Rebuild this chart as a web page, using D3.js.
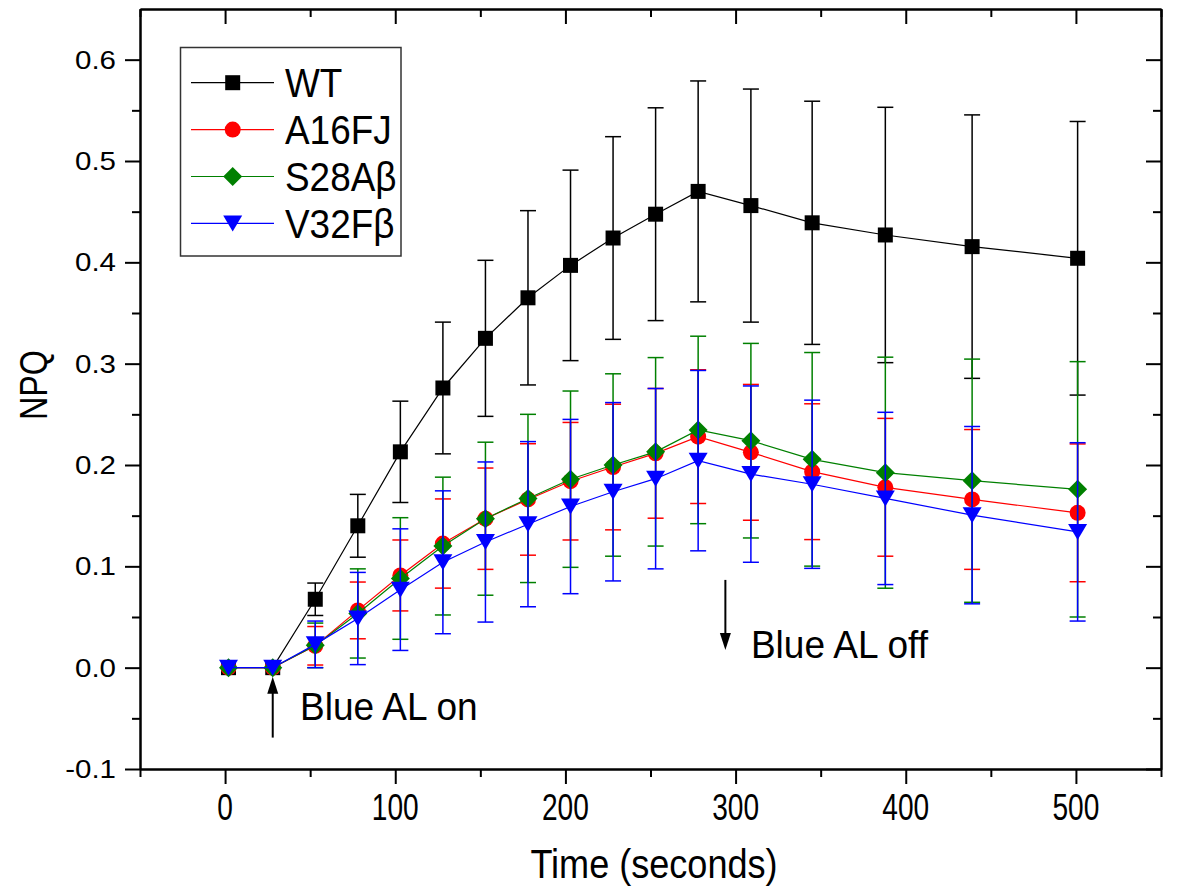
<!DOCTYPE html>
<html>
<head>
<meta charset="utf-8">
<script src="https://cdn.jsdelivr.net/npm/d3@7"></script>
<style>
  body { margin: 0; background: #fff; }
  text { font-family: "Liberation Sans", Arial, sans-serif; fill: #000; }
</style>
</head>
<body>
<svg width="1184" height="894"></svg>
<script>
// time points (seconds)
let times = [2, 28, 53, 78, 103, 128, 153, 178, 203, 228, 253, 278, 309, 345, 388, 439, 501]

let wt_mean = [0, 0, 0.0675, 0.140, 0.213, 0.276, 0.325, 0.365, 0.397, 0.424, 0.4475, 0.470, 0.456, 0.439, 0.427, 0.4155, 0.404]
let wt_err  = [0, 0, 0.016, 0.031, 0.050, 0.065, 0.077, 0.086, 0.094, 0.100, 0.105, 0.109, 0.115, 0.120, 0.126, 0.130, 0.135]

let a16_mean = [0, 0, 0.0216, 0.0565, 0.091, 0.1225, 0.147, 0.166, 0.184, 0.198, 0.2115, 0.228, 0.2125, 0.1934, 0.178, 0.166, 0.1528]
let a16_err  = [0, 0, 0.019, 0.028, 0.035, 0.044, 0.050, 0.055, 0.058, 0.062, 0.064, 0.066, 0.067, 0.067, 0.068, 0.069, 0.068]

let s28_mean = [0, 0, 0.022, 0.0535, 0.088, 0.120, 0.147, 0.167, 0.186, 0.200, 0.213, 0.2346, 0.224, 0.2056, 0.1924, 0.1845, 0.176]
let s28_err  = [0, 0, 0.022, 0.044, 0.060, 0.068, 0.0755, 0.083, 0.087, 0.090, 0.093, 0.0925, 0.096, 0.1054, 0.114, 0.120, 0.126]

let v32_mean = [0, 0, 0.023, 0.0485, 0.077, 0.104, 0.124, 0.1416, 0.159, 0.1736, 0.1865, 0.2043, 0.191, 0.181, 0.167, 0.1505, 0.134]
let v32_err  = [0, 0, 0.023, 0.0455, 0.060, 0.0705, 0.079, 0.0815, 0.086, 0.088, 0.089, 0.089, 0.087, 0.083, 0.085, 0.0875, 0.088]

let series_names = ["WT", "A16FJ", "S28Aβ", "V32Fβ"]
let series_colors = ["#000000", "#ff0000", "#008000", "#0000ff"]
let series_shapes = ["square", "circle", "diamond", "triangle"]

let x_major = [0, 100, 200, 300, 400, 500]
let x_minor = [-50, 50, 150, 250, 350, 450, 550]
let y_major = [-0.1, 0.0, 0.1, 0.2, 0.3, 0.4, 0.5, 0.6]
let y_minor = [-0.05, 0.05, 0.15, 0.25, 0.35, 0.45, 0.55]

// annotations: [label, arrow x, arrow from, arrow to, text x, text y]
let notes = [
    ["Blue AL on", 28, -0.069, -0.009, 44, -0.052],
    ["Blue AL off", 294, 0.0866, 0.0175, 309, 0.0095]
]

let svg = d3.select("svg")
let x = d3.scaleLinear().domain([-50, 550]).range([140, 1161])
let y = d3.scaleLinear().domain([-0.1, 0.65]).range([769, 9])

function marker(shape) {
    if (shape == "square") return "M-7.5,-7.5h15v15h-15z"
    if (shape == "circle") return "M8,0A8,8 0 1,1 -8,0A8,8 0 1,1 8,0z"
    if (shape == "diamond") return "M0,-9.5L9.5,0L0,9.5L-9.5,0z"
    return "M-9.5,-8L9.5,-8L0,8z"
}

function stretched(g, str, px, py, size, sx, anchor, rot) {
    g.append("text")
        .attr("transform", "translate(" + px + "," + py + ")" + (rot ? " rotate(" + rot + ")" : "") + " scale(" + sx + ",1)")
        .attr("text-anchor", anchor)
        .attr("font-size", size)
        .text(str)
}

// series
let all_means = [wt_mean, a16_mean, s28_mean, v32_mean]
let all_errs = [wt_err, a16_err, s28_err, v32_err]

all_means.forEach(function(means, i) {
    let data = times.map((t, j) => ({t: t, m: means[j], e: all_errs[i][j]}))
    let col = series_colors[i]
    let g = svg.append("g")

    g.append("path")
        .datum(data)
        .attr("fill", "none")
        .attr("stroke", col)
        .attr("stroke-width", 1.2)
        .attr("d", d3.line().x(d => x(d.t)).y(d => y(d.m)))

    let bars = g.selectAll(".bar").data(data.filter(d => d.e > 0)).enter().append("g")
        .attr("stroke", col).attr("stroke-width", 1.5)
    bars.append("line")
        .attr("x1", d => x(d.t)).attr("x2", d => x(d.t))
        .attr("y1", d => y(d.m - d.e)).attr("y2", d => y(d.m + d.e))
    bars.append("line")
        .attr("x1", d => x(d.t) - 8).attr("x2", d => x(d.t) + 8)
        .attr("y1", d => y(d.m + d.e)).attr("y2", d => y(d.m + d.e))
    bars.append("line")
        .attr("x1", d => x(d.t) - 8).attr("x2", d => x(d.t) + 8)
        .attr("y1", d => y(d.m - d.e)).attr("y2", d => y(d.m - d.e))

    g.selectAll(".pt").data(data).enter().append("path")
        .attr("d", marker(series_shapes[i]))
        .attr("transform", d => "translate(" + x(d.t) + "," + y(d.m) + ")")
        .attr("fill", col)
})

// axes
function axisStyle(sel) {
    sel.select(".domain").attr("stroke-width", 2)
    sel.selectAll(".tick line").attr("stroke-width", 2)
}
svg.append("g").attr("transform", "translate(0,769)")
    .call(d3.axisBottom(x).tickValues(x_major).tickSize(15).tickSizeOuter(0).tickFormat("")).call(axisStyle)
svg.append("g").attr("transform", "translate(0,769)")
    .call(d3.axisBottom(x).tickValues(x_minor).tickSize(8).tickSizeOuter(0).tickFormat("")).call(axisStyle)
svg.append("g").attr("transform", "translate(0,9)")
    .call(d3.axisTop(x).tickValues(x_major).tickSize(-15).tickSizeOuter(0).tickFormat("")).call(axisStyle)
svg.append("g").attr("transform", "translate(0,9)")
    .call(d3.axisTop(x).tickValues(x_minor).tickSize(-8).tickSizeOuter(0).tickFormat("")).call(axisStyle)
svg.append("g").attr("transform", "translate(140,0)")
    .call(d3.axisLeft(y).tickValues(y_major).tickSize(15).tickSizeOuter(0).tickFormat("")).call(axisStyle)
svg.append("g").attr("transform", "translate(140,0)")
    .call(d3.axisLeft(y).tickValues(y_minor).tickSize(8).tickSizeOuter(0).tickFormat("")).call(axisStyle)
svg.append("g").attr("transform", "translate(1161,0)")
    .call(d3.axisRight(y).tickValues(y_major).tickSize(-15).tickSizeOuter(0).tickFormat("")).call(axisStyle)
svg.append("g").attr("transform", "translate(1161,0)")
    .call(d3.axisRight(y).tickValues(y_minor).tickSize(-8).tickSizeOuter(0).tickFormat("")).call(axisStyle)

// tick labels
let labels = svg.append("g")
x_major.forEach(v => stretched(labels, String(v), x(v), 820, 37, 0.76, "middle"))
y_major.forEach(v => stretched(labels, v.toFixed(1), 116, y(v) + 9, 25, 1.18, "end"))

stretched(labels, "Time (seconds)", 654, 878, 41, 0.88, "middle")
stretched(labels, "NPQ", 47, 385, 38, 0.85, "middle", -90)

// annotations
notes.forEach(function(n) {
    let ax = x(n[1]), y0 = y(n[2]), y1 = y(n[3])
    let dir = y1 < y0 ? 1 : -1
    svg.append("line").attr("x1", ax).attr("x2", ax).attr("y1", y0).attr("y2", y1 + dir * 14)
        .attr("stroke", "#000").attr("stroke-width", 2)
    svg.append("path")
        .attr("d", "M" + ax + "," + y1 + "L" + (ax - 5.5) + "," + (y1 + dir * 17) + "L" + (ax + 5.5) + "," + (y1 + dir * 17) + "z")
        .attr("fill", "#000")
    stretched(svg, n[0], x(n[4]), y(n[5]), 39, 0.95, "start")
})

// legend
let leg = svg.append("g")
leg.append("rect").attr("x", 180.5).attr("y", 47.5).attr("width", 220.5).attr("height", 208.5)
    .attr("fill", "#fff").attr("stroke", "#333").attr("stroke-width", 1.5)
series_names.forEach(function(name, i) {
    let ry = 82.7 + i * 46.9
    leg.append("line").attr("x1", 191).attr("x2", 274).attr("y1", ry).attr("y2", ry)
        .attr("stroke", series_colors[i]).attr("stroke-width", 1.2)
    leg.append("path").attr("d", marker(series_shapes[i]))
        .attr("transform", "translate(232.7," + ry + ")").attr("fill", series_colors[i])
    stretched(leg, name, 285, ry + 14.5, 41, 0.9, "start")
})
</script>
</body>
</html>
